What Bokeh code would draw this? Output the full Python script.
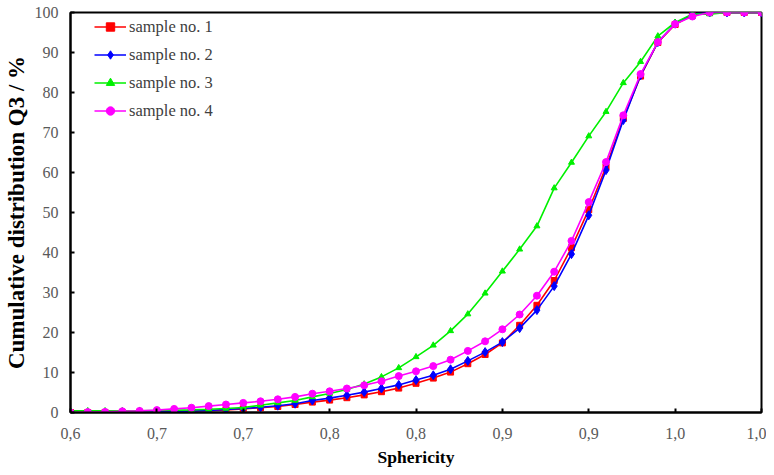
from bokeh.plotting import figure
from bokeh.models import Legend, LegendItem, FixedTicker, Range1d
from bokeh.embed import file_html
from bokeh.resources import INLINE

sphericity = [0.60, 0.61, 0.62, 0.63, 0.64, 0.65, 0.66, 0.67, 0.68, 0.69,
              0.70, 0.71, 0.72, 0.73, 0.74, 0.75, 0.76, 0.77, 0.78, 0.79,
              0.80, 0.81, 0.82, 0.83, 0.84, 0.85, 0.86, 0.87, 0.88, 0.89,
              0.90, 0.91, 0.92, 0.93, 0.94, 0.95, 0.96, 0.97, 0.98, 0.99, 1.00]

sample1 = [0, 0, 0, 0, 0.05, 0.1, 0.2, 0.3, 0.45, 0.65,
           0.9, 1.2, 1.5, 2.0, 2.6, 3.1, 3.7, 4.4, 5.2, 6.1,
           7.3, 8.6, 10.1, 12.2, 14.5, 17.4, 21.8, 26.8, 33.0, 41.2,
           50.7, 61.4, 73.5, 84.1, 92.5, 97.0, 99.3, 100, 100, 100, 100]

sample2 = [0, 0, 0, 0.05, 0.1, 0.15, 0.25, 0.35, 0.5, 0.75,
           1.0, 1.3, 1.7, 2.2, 3.0, 3.6, 4.3, 5.1, 6.0, 6.9,
           8.1, 9.3, 10.8, 12.9, 15.1, 17.6, 21.1, 25.6, 31.6, 39.6,
           49.3, 60.6, 73.1, 84.3, 92.6, 97.2, 99.6, 100, 100, 100, 100]

sample3 = [0.4, 0.4, 0.4, 0.4, 0.45, 0.5, 0.55, 0.65, 0.8, 1.0,
           1.25, 1.8, 2.4, 3.0, 3.9, 4.75, 5.75, 7.1, 8.9, 11.15,
           13.9, 16.8, 20.4, 24.6, 29.8, 35.3, 40.8, 46.6, 56.1, 62.5,
           69.1, 75.2, 82.4, 87.7, 94.1, 97.5, 99.6, 99.6, 100, 100, 100]

sample4 = [0.0, 0.1, 0.15, 0.3, 0.4, 0.6, 0.9, 1.2, 1.6, 2.0,
           2.4, 2.8, 3.3, 3.9, 4.7, 5.3, 6.0, 6.8, 7.8, 9.1,
           10.3, 11.6, 13.2, 15.4, 17.8, 20.8, 24.5, 29.2, 35.2, 42.9,
           52.6, 62.6, 74.3, 84.6, 92.6, 97.1, 99.0, 100, 100, 100, 100]

series_names = ["sample no. 1", "sample no. 2", "sample no. 3", "sample no. 4"]

x_ticks = [0.60, 0.65, 0.70, 0.75, 0.80, 0.85, 0.90, 0.95, 1.00]
x_tick_labels = ["0,6", "0,7", "0,7", "0,8", "0,8", "0,9", "0,9", "1,0", "1,0"]
y_ticks = [0, 10, 20, 30, 40, 50, 60, 70, 80, 90, 100]

SERIF = "'Liberation Serif', 'Times New Roman', serif"

p = figure(width=766, height=472, output_backend="svg", toolbar_location=None,
           x_range=Range1d(0.6, 1.0), y_range=Range1d(0, 100),
           min_border_left=69, min_border_right=5, min_border_top=12, min_border_bottom=60)
p.background_fill_color = "white"
p.border_fill_color = "white"
p.outline_line_color = "black"
p.outline_line_width = 2
p.grid.visible = False

for ax in (p.xaxis[0], p.yaxis[0]):
    ax.axis_line_width = 2
    ax.axis_line_color = "black"
    ax.major_tick_in = 4
    ax.major_tick_out = 0
    ax.major_tick_line_width = 2
    ax.minor_tick_line_color = None
    ax.major_label_text_font = SERIF
    ax.major_label_text_font_size = "16px"
    ax.major_label_text_color = "#595959"
    ax.axis_label_text_font = SERIF
    ax.axis_label_text_font_style = "bold"
    ax.axis_label_text_color = "black"

p.xaxis[0].ticker = FixedTicker(ticks=x_ticks)
p.xaxis[0].major_label_overrides = {t: l for t, l in zip(x_ticks, x_tick_labels)}
p.xaxis[0].major_label_standoff = 15
p.xaxis[0].axis_label = "Sphericity"
p.xaxis[0].axis_label_text_font_size = "17.5px"
p.xaxis[0].axis_label_standoff = 5

p.yaxis[0].ticker = FixedTicker(ticks=y_ticks)
p.yaxis[0].major_label_standoff = 12
p.yaxis[0].axis_label = "Cumulative distribution Q3 / %"
p.yaxis[0].axis_label_text_font_size = "23px"
p.yaxis[0].axis_label_standoff = 3

data = [sample1, sample2, sample3, sample4]
colors = ["#FF0000", "#0000FF", "#00F000", "#FF00FF"]
markers = ["square", "diamond", "triangle", "circle"]
sizes = [6, 9, 6, 7]

items = []
for name, ys, c, m, s in zip(series_names, data, colors, markers, sizes):
    r1 = p.line(sphericity, ys, line_color=c, line_width=1.6)
    r2 = p.scatter(sphericity, ys, marker=m, size=s, fill_color=c, line_color=c)
    items.append(LegendItem(label=name, renderers=[r1, r2]))

legend = Legend(items=items, location=(24, 291))
legend.background_fill_alpha = 0
legend.border_line_color = None
legend.padding = 0
legend.margin = 0
legend.spacing = 7
legend.glyph_width = 32
legend.glyph_height = 21
legend.label_height = 21
legend.label_standoff = 3
legend.label_text_font = SERIF
legend.label_text_font_size = "16.5px"
legend.label_text_color = "#404040"
p.add_layout(legend, "center")

open("out.html", "w").write(file_html(p, INLINE))
